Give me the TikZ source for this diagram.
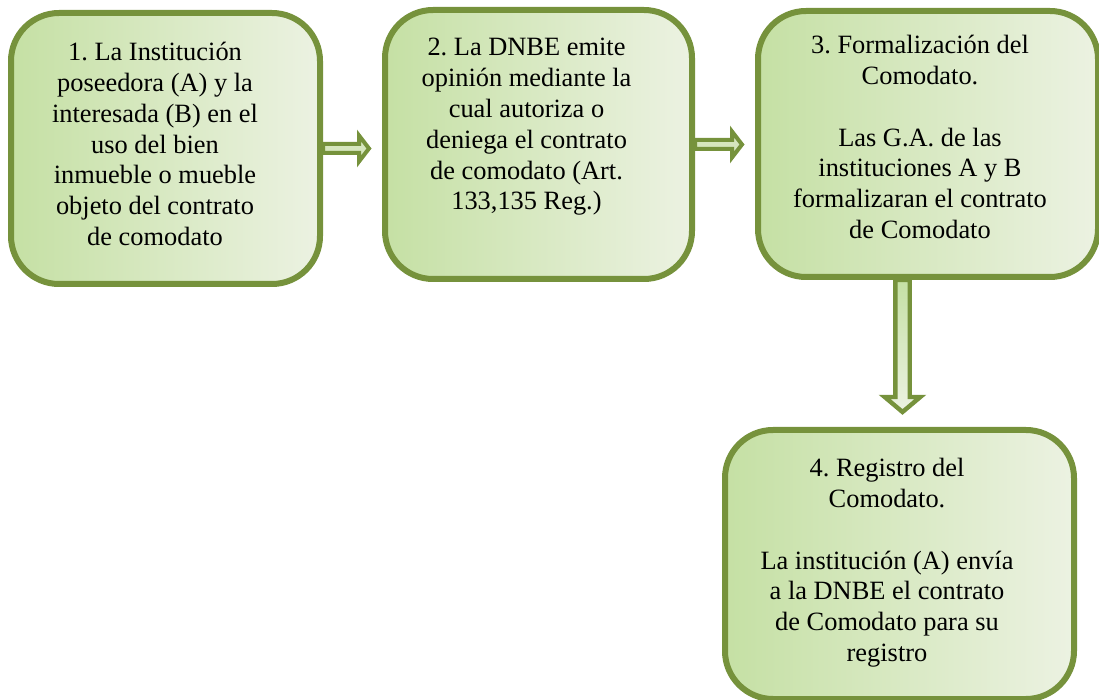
\documentclass[tikz,border=0pt]{standalone}
\usepackage{fontspec}
\setmainfont{Liberation Serif}
\usetikzlibrary{calc}
\frenchspacing

\definecolor{boxline}{RGB}{118,146,60}
\definecolor{boxleft}{RGB}{197,224,164}
\definecolor{boxright}{RGB}{236,242,226}
\definecolor{arrowfill}{RGB}{214,230,190}

\tikzset{
  harrow/.style={draw=boxline,line width=2pt,fill=arrowfill,
    to path={let \p1=(\tikztostart),\p2=(\tikztotarget) in
      (\x1,\y1+2.25pt) -- (\x2-11.5pt,\y1+2.25pt) -- (\x2-11.5pt,\y1+6.5pt)
      -- (\x2-6.5pt,\y1) -- (\x2-11.5pt,\y1-6.5pt) -- (\x2-11.5pt,\y1-2.25pt)
      -- (\x1,\y1-2.25pt) -- cycle}},
  varrow/.style={draw=boxline,line width=2.2pt,top color=boxleft,bottom color=boxright,
    to path={let \p1=(\tikztostart),\p2=(\tikztotarget) in
      (\x1-2.1pt,\y1) -- (\x1-2.1pt,\y2+15pt) -- (\x1-7.4pt,\y2+15pt)
      -- (\x1+1.5pt,\y2+7.5pt) -- (\x1+10.4pt,\y2+15pt) -- (\x1+5.1pt,\y2+15pt)
      -- (\x1+5.1pt,\y1) -- cycle}}
}

\begin{document}
\begin{tikzpicture}[x=0.5pt,y=-0.5pt]
\tikzstyle{stepbox}=[draw=boxline,line width=3pt,rounded corners=24pt,left color=boxleft,right color=boxright,inner sep=0pt];
\tikzstyle{steptext}=[anchor=north,align=center,inner sep=0pt,font=\rmfamily\fontsize{13.2pt}{15.4pt}\selectfont];
\useasboundingbox (0,0) rectangle (1099,700);

\node[stepbox,minimum width=154.5pt,minimum height=135.5pt] (b1) at (165.5,148.5) {};
\node[stepbox,minimum width=153.5pt,minimum height=134.5pt] (b2) at (538.5,144.5) {};
\node[stepbox,minimum width=170pt,minimum height=133pt] (b3) at (928,144) {};
\node[stepbox,minimum width=174.5pt,minimum height=134.5pt] (b4) at (899.5,564.5) {};

\node[steptext] (t1) at (155,42) {1. La Institución\\poseedora (A) y la\\interesada (B) en el\\uso del bien\\inmueble o mueble\\objeto del contrato\\de comodato};
\node[steptext] (t2) at (526.5,38) {2. La DNBE emite\\opinión mediante la\\cual autoriza o\\deniega el contrato\\de comodato (Art.\\133,135 Reg.)};
\node[steptext] (t3) at (920,35) {3. Formalización del\\Comodato.\\[15.4pt]Las G.A. de las\\instituciones A y B\\formalizaran el contrato\\de Comodato};
\node[steptext] (t4) at (887,458) {4. Registro del\\Comodato.\\[15.4pt]La institución (A) envía\\a la DNBE el contrato\\de Comodato para su\\registro};

\draw[harrow] (b1.east) to (b2.west);
\draw[harrow] (b2.east) to (b3.west);
\draw[varrow] (b3.south -| b4.north) to (b4.north);
\end{tikzpicture}
\end{document}
